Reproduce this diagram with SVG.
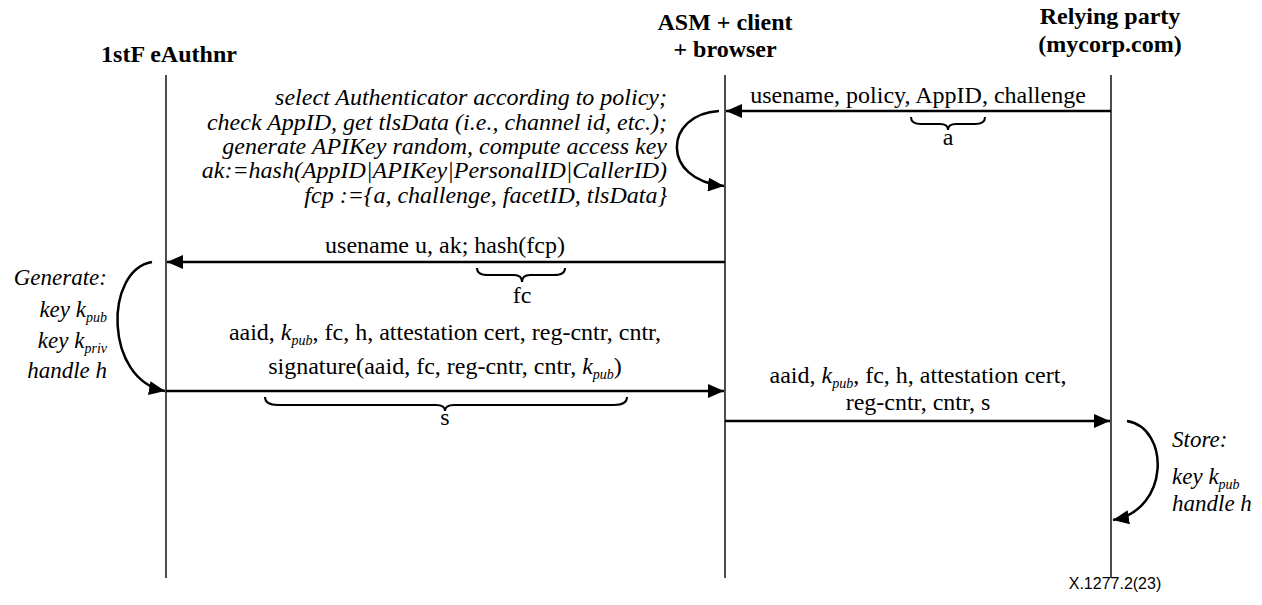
<svg xmlns="http://www.w3.org/2000/svg" width="1262" height="605" viewBox="0 0 1262 605">
  <style>
    text { font-family: 'Liberation Serif', 'Times New Roman', serif; fill: #000; }
    .hdr { font-size: 24px; font-weight: bold; text-anchor: middle; }
    .msg { font-size: 24px; text-anchor: middle; }
    .note { font-size: 24px; font-style: italic; }
    .side { font-size: 23px; font-style: italic; }
    .sub { font-size: 14px; font-style: italic; }
    .it { font-style: italic; }
    .life { stroke: #000; stroke-width: 1.4; fill: none; }
    .arrow { stroke: #000; stroke-width: 2.5; fill: none; }
    .brace { stroke: #000; stroke-width: 2; fill: none; }
    .fig { font-family: 'Liberation Sans', Arial, sans-serif; font-size: 16px; text-anchor: middle; }
  </style>
  <defs>
    <marker id="head" viewBox="0 0 16 14" refX="16" refY="7" markerWidth="16" markerHeight="14" markerUnits="userSpaceOnUse" orient="auto">
      <path d="M0,0 L16,7 L0,14 Z" fill="#000"/>
    </marker>
  </defs>

  <rect width="1262" height="605" fill="#fff"/>

  <!-- participants -->
  <g id="authenticator">
    <text class="hdr" x="169" y="62">1stF eAuthnr</text>
    <line class="life" x1="166" y1="75" x2="166" y2="578"/>
  </g>
  <g id="client">
    <text class="hdr" x="725" y="30">ASM + client</text>
    <text class="hdr" x="725" y="57">+ browser</text>
    <line class="life" x1="725" y1="75" x2="725" y2="578"/>
  </g>
  <g id="relying-party">
    <text class="hdr" x="1110" y="24">Relying party</text>
    <text class="hdr" x="1110" y="52">(mycorp.com)</text>
    <line class="life" x1="1111" y1="75" x2="1111" y2="578"/>
  </g>

  <!-- client-side processing note -->
  <g id="client-note">
    <text class="note" text-anchor="end" x="667" y="105">select Authenticator according to policy;</text>
    <text class="note" text-anchor="end" x="667" y="130">check AppID, get tlsData (i.e., channel id, etc.);</text>
    <text class="note" text-anchor="end" x="667" y="154">generate APIKey random, compute access key</text>
    <text class="note" text-anchor="end" x="667" y="178">ak:=hash(AppID|APIKey|PersonalID|CallerID)</text>
    <text class="note" text-anchor="end" x="667" y="203">fcp :={a, challenge, facetID, tlsData}</text>
  </g>

  <!-- authenticator key generation note -->
  <g id="generate-note">
    <text class="side" text-anchor="end" x="107" y="285">Generate:</text>
    <text class="side" text-anchor="end" x="107" y="317">key <tspan>k</tspan><tspan class="sub" dy="5">pub</tspan></text>
    <text class="side" text-anchor="end" x="107" y="348">key <tspan>k</tspan><tspan class="sub" dy="5">priv</tspan></text>
    <text class="side" text-anchor="end" x="107" y="378">handle h</text>
  </g>

  <!-- relying party storage note -->
  <g id="store-note">
    <text class="side" x="1172" y="447">Store:</text>
    <text class="side" x="1172" y="484">key <tspan>k</tspan><tspan class="sub" dy="5">pub</tspan></text>
    <text class="side" x="1172" y="511">handle h</text>
  </g>

  <!-- message labels -->
  <g id="labels">
    <text class="msg" x="918" y="103">usename, policy, AppID, challenge</text>
    <text class="msg" x="948" y="145">a</text>

    <text class="msg" x="445" y="253">usename u, ak; hash(fcp)</text>
    <text class="msg" x="522" y="303">fc</text>

    <text class="msg" x="445" y="340">aaid, <tspan class="it">k</tspan><tspan class="sub" dy="5">pub</tspan><tspan dy="-5">, fc, h, attestation cert, reg-cntr, cntr,</tspan></text>
    <text class="msg" x="445" y="374">signature(aaid, fc, reg-cntr, cntr, <tspan class="it">k</tspan><tspan class="sub" dy="5">pub</tspan><tspan dy="-5">)</tspan></text>
    <text class="msg" x="445" y="425">s</text>

    <text class="msg" x="918" y="383">aaid, <tspan class="it">k</tspan><tspan class="sub" dy="5">pub</tspan><tspan dy="-5">, fc, h, attestation cert,</tspan></text>
    <text class="msg" x="918" y="410">reg-cntr, cntr, s</text>
  </g>

  <!-- connectors -->
  <g id="connectors">
    <line class="arrow" x1="1111" y1="111" x2="726" y2="111" marker-end="url(#head)"/>
    <path class="arrow" d="M 719 111 C 664 114, 660 180, 724 186" marker-end="url(#head)"/>
    <line class="arrow" x1="725" y1="262" x2="167" y2="262" marker-end="url(#head)"/>
    <path class="arrow" d="M 152 262 C 104 270, 104 380, 165 391" marker-end="url(#head)"/>
    <line class="arrow" x1="166" y1="391" x2="724" y2="391" marker-end="url(#head)"/>
    <line class="arrow" x1="725" y1="421" x2="1110" y2="421" marker-end="url(#head)"/>
    <path class="arrow" d="M 1127 421 C 1170 428, 1170 510, 1113 520" marker-end="url(#head)"/>
  </g>

  <!-- grouping braces -->
  <g id="braces">
    <path class="brace" d="M 911 117 Q 911 124 921 124 L 940 124 Q 948 124 948 130 Q 948 124 956 124 L 975 124 Q 985 124 985 117"/>
    <path class="brace" d="M 477 268 Q 477 275 488 275 L 514 275 Q 522 275 522 282 Q 522 275 530 275 L 554 275 Q 565 275 565 268"/>
    <path class="brace" d="M 265 397 Q 265 405 278 405 L 436 405 Q 445 405 445 411 Q 445 405 454 405 L 614 405 Q 627 405 627 397"/>
  </g>

  <text class="fig" x="1115" y="589">X.1277.2(23)</text>
</svg>
